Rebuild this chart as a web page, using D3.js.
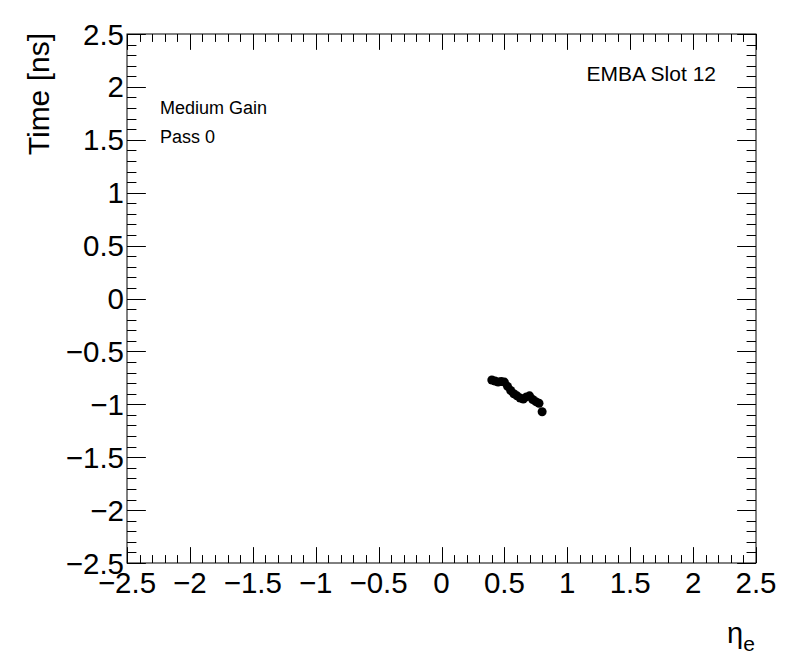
<!DOCTYPE html>
<html><head><meta charset="utf-8">
<script src="https://cdn.jsdelivr.net/npm/d3@7"></script>
<style>body{margin:0;background:#fff}svg{display:block}text{font-family:"Liberation Sans",Arial,sans-serif}</style>
</head><body>
<svg id="c" width="796" height="672"></svg>
<script>
const etaValues = [0.40,0.425,0.45,0.475,0.50,0.525,0.55,0.575,0.60,0.625,0.65,0.675,0.70,0.725,0.75,0.775,0.80];
const timeValues = [-0.77,-0.78,-0.79,-0.785,-0.79,-0.83,-0.87,-0.90,-0.92,-0.94,-0.95,-0.93,-0.92,-0.955,-0.975,-0.99,-1.07];
const xTicks = [-2.5,-2,-1.5,-1,-0.5,0,0.5,1,1.5,2,2.5];
const yTicks = [-2.5,-2,-1.5,-1,-0.5,0,0.5,1,1.5,2,2.5];
const labels = ["Medium Gain","Pass 0"];
const title = "EMBA Slot 12";

const svg = d3.select("#c");
const L=127,R=756,T=34,B=563;
const x = d3.scaleLinear().domain([-2.5,2.5]).range([L,R]);
const y = d3.scaleLinear().domain([-2.5,2.5]).range([B,T]);
const fmt = d => d<0 ? "\u2212"+Math.abs(d) : String(d);
const minor = d3.range(-25,26).map(i=>i/10);

const g = svg.append("g");
g.append("rect").attr("x",L).attr("y",T).attr("width",R-L).attr("height",B-T)
  .attr("fill","none").attr("stroke","#000").attr("stroke-width",1);

const xl = 0.03*(B-T), yl = 0.03*(R-L);
minor.forEach(v=>{
  const major = Math.abs(v*2-Math.round(v*2))<1e-6;
  const lx = major?xl:xl/2, ly = major?yl:yl/2;
  const px = Math.round(x(v))+0.5, py = Math.round(y(v))+0.5;
  g.append("line").attr("x1",px).attr("x2",px).attr("y1",B).attr("y2",B-lx).attr("stroke","#000");
  g.append("line").attr("x1",px).attr("x2",px).attr("y1",T).attr("y2",T+lx).attr("stroke","#000");
  g.append("line").attr("y1",py).attr("y2",py).attr("x1",L).attr("x2",L+ly).attr("stroke","#000");
  g.append("line").attr("y1",py).attr("y2",py).attr("x1",R).attr("x2",R-ly).attr("stroke","#000");
});

g.selectAll(".xt").data(xTicks).enter().append("text")
  .attr("x",d=>x(d)).attr("y",593).attr("text-anchor","middle")
  .attr("font-size",29.5).text(fmt);
g.selectAll(".yt").data(yTicks).enter().append("text")
  .attr("x",124).attr("y",d=>y(d)+10.5).attr("text-anchor","end")
  .attr("font-size",29.5).text(fmt);

svg.append("text").attr("transform","translate(49,33) rotate(-90)")
  .attr("text-anchor","end").attr("font-size",30).text("Time [ns]");
const et = svg.append("text").attr("x",727).attr("y",643).attr("font-size",29);
et.append("tspan").text("\u03b7");
et.append("tspan").attr("font-size",21).attr("dy",8).text("e");

svg.append("text").attr("x",160).attr("y",114).attr("font-size",18).text(labels[0]);
svg.append("text").attr("x",160).attr("y",143).attr("font-size",18).text(labels[1]);
svg.append("text").attr("x",716).attr("y",81).attr("text-anchor","end").attr("font-size",21).text(title);

g.selectAll(".pt").data(etaValues).enter().append("circle")
  .attr("cx",d=>x(d)).attr("cy",(d,i)=>y(timeValues[i])).attr("r",4.5).attr("fill","#000");
</script>
</body></html>
